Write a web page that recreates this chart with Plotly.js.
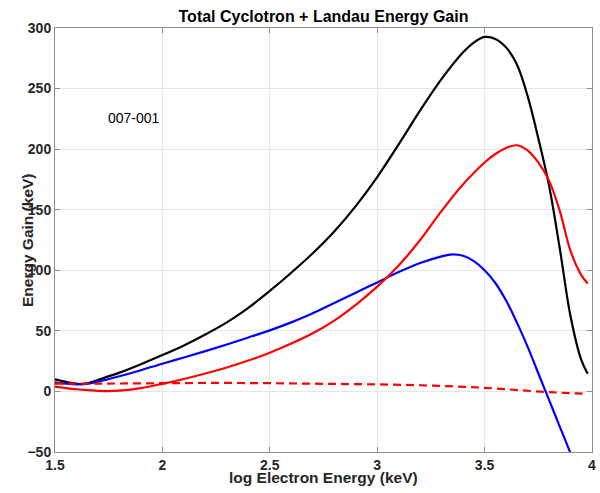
<!DOCTYPE html>
<html>
<head>
<meta charset="utf-8">
<script src="https://cdn.plot.ly/plotly-3.0.1.min.js"></script>
<style>html,body{margin:0;padding:0;background:#fff;}#chart{width:600px;height:493px;}</style>
</head>
<body>
<div id="chart"></div>
<script>
// Total (cyclotron + Landau) - black
const totalX = [1.5, 1.55, 1.6, 1.625, 1.65, 1.7, 1.8, 1.9, 2.0, 2.1, 2.2, 2.3, 2.4, 2.5, 2.6, 2.7, 2.8, 2.9, 3.0, 3.1, 3.2, 3.3, 3.4, 3.45, 3.5, 3.55, 3.6, 3.65, 3.7, 3.75, 3.8, 3.85, 3.9, 3.95, 3.98];
const totalY = [10, 8, 6.4, 6, 6.6, 9.5, 15.5, 22.5, 30, 38, 47, 57, 69, 83, 98, 114, 132, 153, 177, 204, 232, 258, 280, 288, 292.6, 291, 284, 270, 244, 209, 170, 118, 62, 26, 14.6];
// Blue series
const blueX = [1.5, 1.55, 1.6, 1.65, 1.7, 1.8, 1.9, 2.0, 2.1, 2.2, 2.3, 2.4, 2.5, 2.6, 2.7, 2.8, 2.9, 3.0, 3.1, 3.2, 3.3, 3.35, 3.4, 3.45, 3.5, 3.55, 3.6, 3.65, 3.7, 3.75, 3.8, 3.85, 3.9, 3.95];
const blueY = [7.5, 6.5, 5.9, 6.3, 8, 12.5, 17.5, 22.9, 28, 33.3, 38.8, 44.5, 50.4, 57, 64.5, 73, 81.5, 90, 98.5, 106, 111.5, 113.2, 112, 107.5, 100, 89.5, 75, 57, 37, 15, -7, -29, -51, -73];
// Red solid series
const redX = [1.5, 1.55, 1.6, 1.65, 1.7, 1.75, 1.8, 1.9, 2.0, 2.1, 2.2, 2.3, 2.4, 2.5, 2.6, 2.7, 2.8, 2.9, 3.0, 3.1, 3.2, 3.3, 3.4, 3.5, 3.55, 3.6, 3.65, 3.7, 3.75, 3.8, 3.85, 3.9, 3.95, 3.98];
const redY = [4, 2.8, 1.8, 1, 0.5, 0.3, 0.7, 2.8, 6.3, 10.3, 14.8, 19.8, 25.5, 32, 39.5, 48, 58.5, 71.5, 86.5, 104, 125, 149, 171, 189, 196, 201, 203.2, 199, 189, 174, 149, 116, 96, 89];
// Red dashed series
const redDashX = [1.5, 1.75, 2.0, 2.25, 2.5, 2.75, 3.0, 3.25, 3.5, 3.72, 3.85, 3.98];
const redDashY = [6.4, 6.5, 6.8, 7, 6.8, 6.3, 5.8, 4.8, 3, 0.3, -1, -2];

const xTicks = [1.5, 2, 2.5, 3, 3.5, 4];
const xTickText = ['1.5', '2', '2.5', '3', '3.5', '4'];
const yTicks = [-50, 0, 50, 100, 150, 200, 250, 300];

const FONT = 'Liberation Sans, Arial, Helvetica, sans-serif';

const traces = [
  {x: totalX, y: totalY, mode: 'lines', line: {color: '#000000', width: 2.2, shape: 'spline', smoothing: 1}},
  {x: blueX, y: blueY, mode: 'lines', line: {color: '#0000ff', width: 2.2, shape: 'spline', smoothing: 1}},
  {x: redX, y: redY, mode: 'lines', line: {color: '#ff0000', width: 2.2, shape: 'spline', smoothing: 1}},
  {x: redDashX, y: redDashY, mode: 'lines', line: {color: '#ff0000', width: 2.2, dash: '8px,5px', shape: 'spline', smoothing: 1}}
];

const axisCommon = {
  showgrid: true, gridcolor: '#e6e6e6', gridwidth: 1,
  showline: true, linecolor: '#8c8c8c', linewidth: 1, mirror: 'ticks',
  ticks: 'inside', ticklen: 5, tickcolor: '#8c8c8c', zeroline: false,
  tickfont: {family: FONT, size: 14, color: '#262626', weight: 'bold'}
};

const layout = {
  width: 600, height: 493,
  margin: {l: 55, r: 8, t: 28, b: 41},
  paper_bgcolor: '#ffffff', plot_bgcolor: '#ffffff',
  showlegend: false,
  font: {family: FONT, color: '#000000'},
  title: {text: 'Total Cyclotron + Landau Energy Gain', xref: 'paper', x: 0.5, xanchor: 'center',
          yref: 'container', y: 1 - 16.5 / 493, yanchor: 'middle',
          font: {family: FONT, size: 16, color: '#000000', weight: 'bold'}},
  xaxis: Object.assign({}, axisCommon, {range: [1.5, 4], tickvals: xTicks, ticktext: xTickText}),
  yaxis: Object.assign({}, axisCommon, {range: [-50, 300], tickvals: yTicks}),
  annotations: [
    {text: 'log Electron Energy (keV)', xref: 'paper', yref: 'paper', x: 0.5, y: (452 - 477.5) / 424,
     xanchor: 'center', yanchor: 'middle', showarrow: false,
     font: {family: FONT, size: 15.5, color: '#262626', weight: 'bold'}},
    {text: 'Energy Gain (keV)', xref: 'paper', yref: 'paper', x: (27 - 55) / 537, y: 0.5,
     xanchor: 'center', yanchor: 'middle', textangle: -90, showarrow: false,
     font: {family: FONT, size: 15.5, color: '#262626', weight: 'bold'}},
    {text: '007-001', xref: 'x', yref: 'y', x: 1.87, y: 225.6, xanchor: 'center', yanchor: 'middle',
     showarrow: false, font: {family: FONT, size: 14, color: '#000000'}}
  ]
};

Plotly.newPlot('chart', traces, layout, {staticPlot: true, displayModeBar: false});
</script>
</body>
</html>
